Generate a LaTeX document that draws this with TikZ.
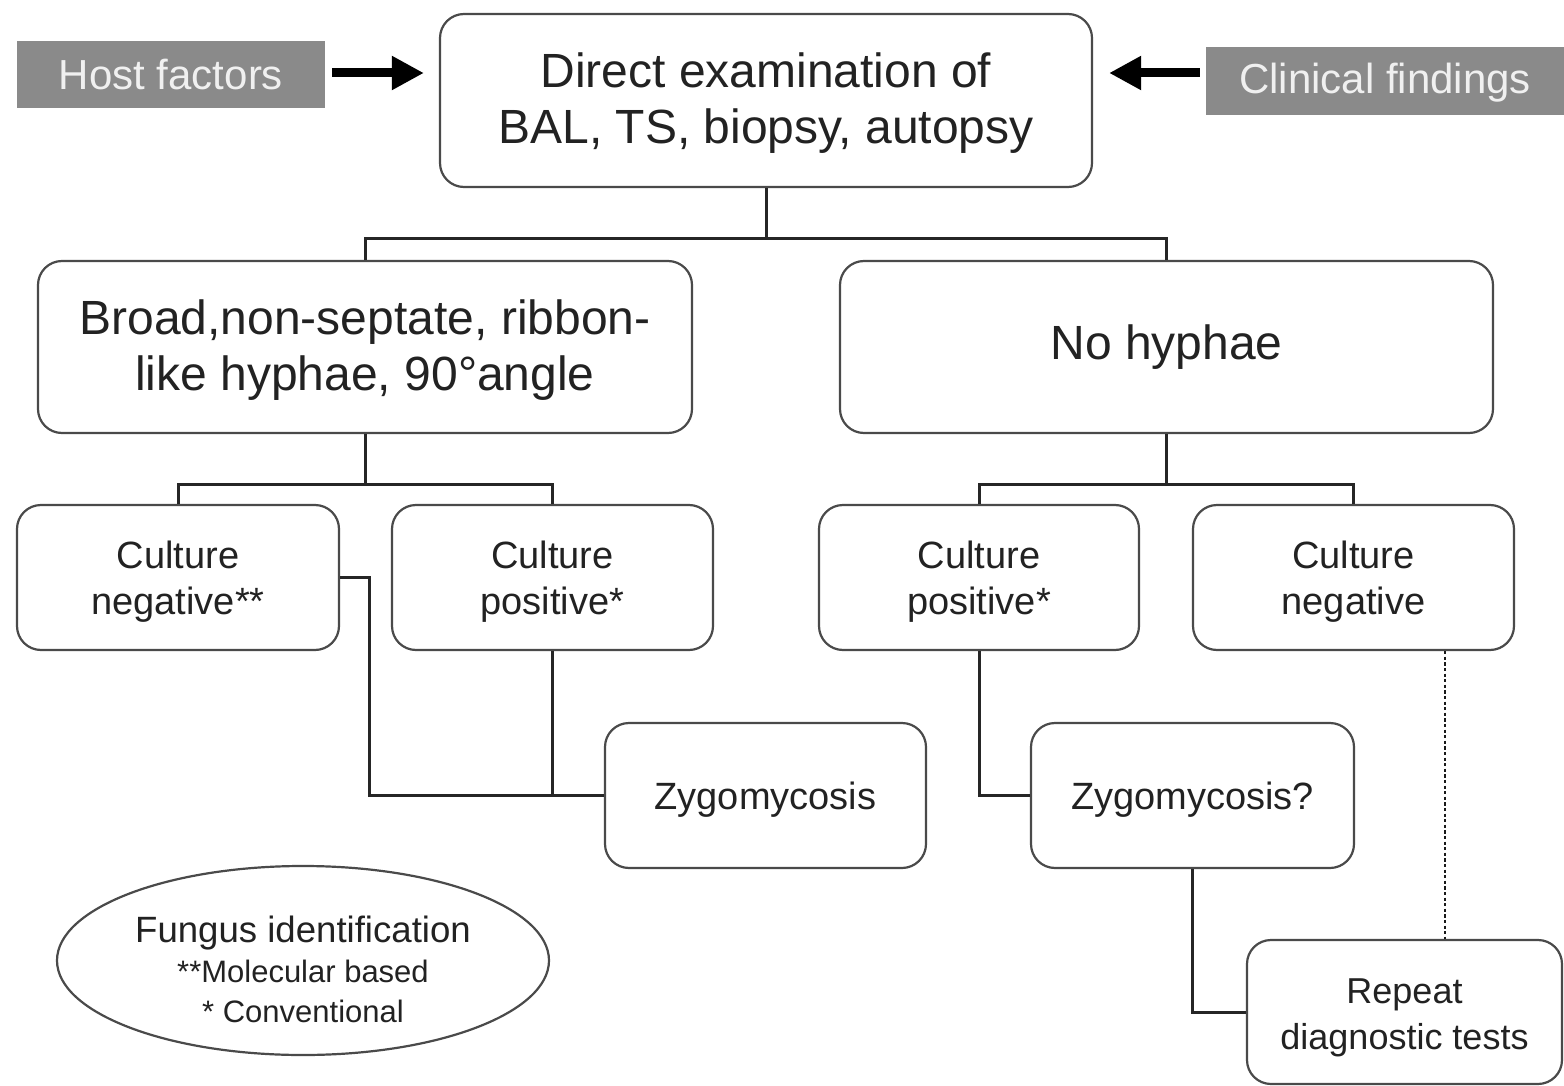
\documentclass[tikz,border=0pt]{standalone}
\usepackage{fontspec}
\setmainfont{Liberation Sans}
\usetikzlibrary{arrows.meta,shapes.geometric}
\definecolor{boxgray}{HTML}{8A8A8A}
\definecolor{txt}{HTML}{222222}
\definecolor{edge}{HTML}{4A4A4A}
\newcommand{\lowr}[2]{\raisebox{-#1}[\height][\depth]{\begin{tabular}{@{}c@{}}#2\end{tabular}}}
\tikzset{
  rbox/.style={draw=edge, line width=1.1pt, rounded corners=12pt, align=center, text=txt, inner sep=0pt},
  bigtext/.style={font=\fontsize{24}{28}\selectfont},
  midtext/.style={font=\fontsize{19}{23}\selectfont},
  graybox/.style={fill=boxgray, text=white!94!black, inner sep=0pt, font=\fontsize{21}{24}\selectfont},
  link/.style={line width=1.5pt, black!85},
  bigarrow/.style={line width=4.5pt, -{Triangle[length=16pt,width=16pt]}},
}
\begin{document}
\begin{tikzpicture}[x=0.5pt,y=-0.5pt]
\useasboundingbox (0,0) rectangle (1564,1086);
\fill[white] (0,0) rectangle (1564,1086);
% top row
\node[rbox, bigtext, minimum width=326pt, minimum height=86.5pt] (top) at (766,100.5) {\lowr{2pt}{Direct examination of\\BAL, TS, biopsy, autopsy}};
\node[graybox, minimum width=154pt, minimum height=33.5pt] (host) at (171,74.5) {Host factors};
\node[graybox, minimum width=179pt, minimum height=34pt] (clin) at (1385,81) {\lowr{1.5pt}{Clinical findings}};
% second row
\node[rbox, bigtext, minimum width=327pt, minimum height=86pt] (broad) at (365,347) {\lowr{2pt}{Broad,non-septate, ribbon-\\like hyphae, 90°angle}};
\node[rbox, bigtext, minimum width=326.5pt, minimum height=86pt] (nohyph) at (1166.5,347) {No hyphae};
% third row
\node[rbox, midtext, minimum width=161pt, minimum height=72.5pt] (cneg1) at (178,577.5) {\lowr{2.5pt}{Culture\\negative**}};
\node[rbox, midtext, minimum width=160.5pt, minimum height=72.5pt] (cpos1) at (552.5,577.5) {\lowr{2.5pt}{Culture\\positive*}};
\node[rbox, midtext, minimum width=160pt, minimum height=72.5pt] (cpos2) at (979,577.5) {\lowr{2.5pt}{Culture\\positive*}};
\node[rbox, midtext, minimum width=160.5pt, minimum height=72.5pt] (cneg2) at (1353.5,577.5) {\lowr{2.5pt}{Culture\\negative}};
% fourth row
\node[rbox, midtext, minimum width=160.5pt, minimum height=72.5pt] (zygo) at (765.5,795.5) {\lowr{2.5pt}{Zygomycosis}};
\node[rbox, midtext, minimum width=161.5pt, minimum height=72.5pt] (zygoq) at (1192.5,795.5) {\lowr{2.5pt}{Zygomycosis?}};
\node[rbox, font=\fontsize{18}{23}\selectfont, minimum width=157.5pt, minimum height=72pt] (repeat) at (1404.5,1012) {\lowr{2.5pt}{Repeat\\diagnostic tests}};
% legend ellipse
\node[ellipse, draw=edge, line width=1.1pt, minimum width=246pt, minimum height=94.5pt, inner sep=0pt, text=txt, font=\fontsize{15.5}{20}\selectfont] (legend) at (303,960.5)
  {\lowr{7pt}{{\fontsize{18.3}{20}\selectfont Fungus identification}\\\relax **Molecular based\\\relax * Conventional}};
% arrows
\draw[bigarrow, shorten <=3.5pt, shorten >=7.5pt] ([yshift=0.75pt]host.east) -- ([yshift=0.75pt]host.east -| top.west);
\draw[bigarrow, shorten <=3pt, shorten >=8pt] ([yshift=4pt]clin.west) -- ([yshift=4pt]clin.west -| top.east);
% tree connectors
\coordinate (j1) at (766,238);
\draw[link] (top.south) -- (j1);
\draw[link] (broad.north) |- (j1) -| (nohyph.north);
\coordinate (j2) at (365,484);
\draw[link] (broad.south) -- (j2);
\draw[link] (cneg1.north) |- (j2) -| (cpos1.north);
\coordinate (j3) at (1166.5,484);
\draw[link] (nohyph.south) -- (j3);
\draw[link] (cpos2.north) |- (j3) -| (cneg2.north);
% to zygomycosis
\draw[link] (cneg1.east) -- ++(29,0) |- (zygo.west);
\draw[link] (cpos1.south) -- (cpos1.south |- zygo.west);
\draw[link] (cpos2.south) |- (zygoq.west);
\draw[link] (zygoq.south) |- (repeat.west);
\draw[line width=1.3pt, dash pattern=on 1.6pt off 1.2pt, black!90] ([xshift=45.75pt]cneg2.south) -- ([xshift=45.75pt]cneg2.south |- repeat.north);
\end{tikzpicture}
\end{document}
